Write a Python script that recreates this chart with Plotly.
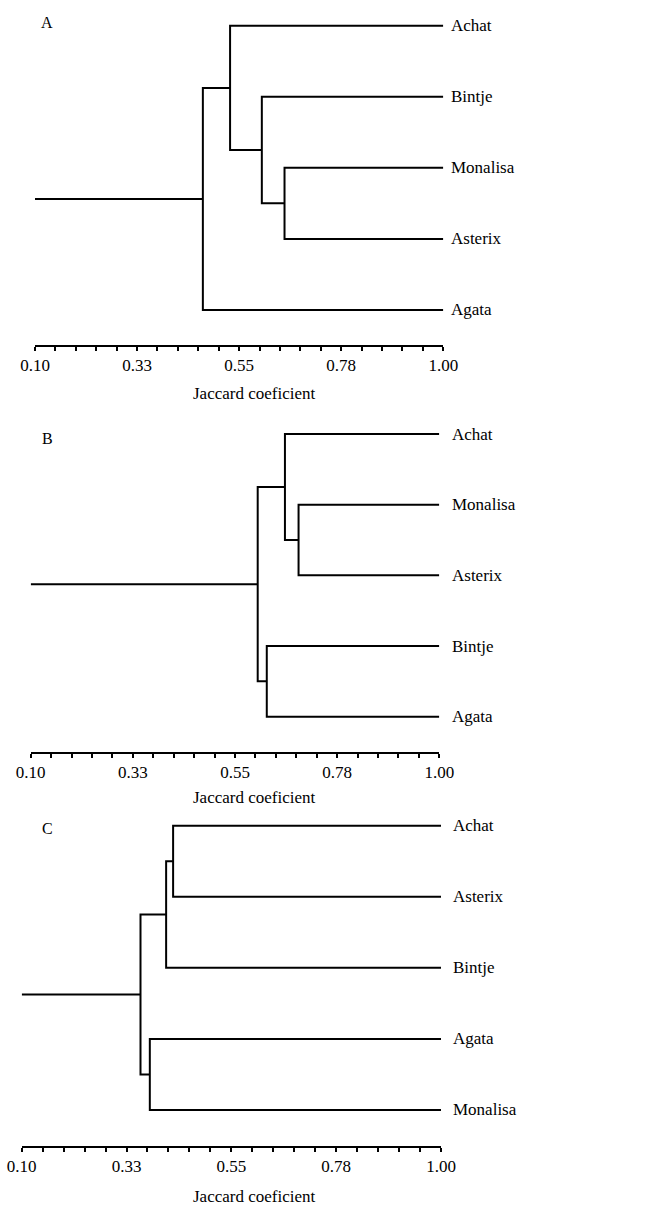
import numpy as np
import plotly.graph_objects as go

W, H = 665, 1206

# ---------------- data ----------------
a_leaves = ["Achat", "Bintje", "Monalisa", "Asterix", "Agata"]
a_merges = [(2, 3, 0.65), (1, 5, 0.60), (0, 6, 0.53), (7, 4, 0.47)]

b_leaves = ["Achat", "Monalisa", "Asterix", "Bintje", "Agata"]
b_merges = [(1, 2, 0.69), (0, 5, 0.66), (3, 4, 0.62), (6, 7, 0.60)]

c_leaves = ["Achat", "Asterix", "Bintje", "Agata", "Monalisa"]
c_merges = [(0, 1, 0.425), (5, 2, 0.41), (3, 4, 0.375), (6, 7, 0.355)]

tick_vals = [0.10, 0.325, 0.55, 0.775, 1.00]
tick_text = ["0.10", "0.33", "0.55", "0.78", "1.00"]
axis_min, axis_max = 0.10, 1.00
minor_step = 0.045
panel_letters = ["A", "B", "C"]
axis_title = "Jaccard coeficient"

# ---------------- layout (pixels) ----------------
panels_px = [
    dict(x0=35.0, x1=443.3, leaf0=25.7, step=71.07, axis=345.0, top=5.0,
         letter=(47, 22), title=(254, 394), label_x=449),
    dict(x0=30.7, x1=439.3, leaf0=434.0, step=70.67, axis=751.7, top=410.0,
         letter=(47, 438), title=(254, 797), label_x=450),
    dict(x0=21.7, x1=441.0, leaf0=825.7, step=71.07, axis=1145.7, top=810.0,
         letter=(47, 828), title=(254, 1196), label_x=451),
]
FONT = "Liberation Serif"
FS = 17


def dendro_path(n_leaves, merges, leaf_height, base):
    ypos = {i: float(i) for i in range(n_leaves)}
    xpos = {i: leaf_height for i in range(n_leaves)}
    xs, ys = [], []
    for k, (a, b, h) in enumerate(merges):
        node = n_leaves + k
        xs += [xpos[a], h, h, xpos[b], None]
        ys += [ypos[a], ypos[a], ypos[b], ypos[b], None]
        ypos[node] = (ypos[a] + ypos[b]) / 2
        xpos[node] = h
    root = n_leaves + len(merges) - 1
    xs += [xpos[root], base]
    ys += [ypos[root], ypos[root]]
    return xs, ys


fig = go.Figure()
annotations = []
datasets = [(a_leaves, a_merges), (b_leaves, b_merges), (c_leaves, c_merges)]
minor_vals = list(np.round(np.arange(axis_min, axis_max + 1e-9, minor_step), 4))

for i, ((leaves, merges), p) in enumerate(zip(datasets, panels_px), start=1):
    xs, ys = dendro_path(len(leaves), merges, axis_max, axis_min)
    xa = "x" if i == 1 else f"x{i}"
    ya = "y" if i == 1 else f"y{i}"
    fig.add_trace(go.Scatter(x=xs, y=ys, mode="lines", xaxis=xa, yaxis=ya,
                             line=dict(color="black", width=2),
                             hoverinfo="skip", showlegend=False))
    xkey = "xaxis" if i == 1 else f"xaxis{i}"
    ykey = "yaxis" if i == 1 else f"yaxis{i}"
    fig.update_layout(**{
        xkey: dict(domain=[p["x0"] / W, p["x1"] / W], range=[axis_min, axis_max],
                   anchor=ya, showline=True, linecolor="black", linewidth=2,
                   ticks="outside", tickvals=tick_vals, ticktext=tick_text,
                   ticklen=4, tickwidth=1.5, tickcolor="black",
                   tickfont=dict(family=FONT, size=FS, color="black"),
                   minor=dict(tickmode="array", tickvals=minor_vals, ticks="outside",
                              ticklen=4, tickwidth=1.5, tickcolor="black", showgrid=False),
                   showgrid=False, zeroline=False, fixedrange=True, automargin=False),
        ykey: dict(domain=[1 - p["axis"] / H, 1 - p["top"] / H],
                   range=[(p["axis"] - p["leaf0"]) / p["step"], (p["top"] - p["leaf0"]) / p["step"]],
                   anchor=xa, visible=False, fixedrange=True, automargin=False),
    })
    for j, name in enumerate(leaves):
        annotations.append(dict(x=axis_max, y=j, xref=xa, yref=ya, text=name,
                                showarrow=False, xanchor="left", yanchor="middle",
                                xshift=p["label_x"] - p["x1"],
                                font=dict(family=FONT, size=FS, color="black")))
    annotations.append(dict(x=p["letter"][0] / W, y=1 - p["letter"][1] / H, xref="paper", yref="paper",
                            text=panel_letters[i - 1], showarrow=False, xanchor="center", yanchor="middle",
                            font=dict(family=FONT, size=16, color="black")))
    annotations.append(dict(x=p["title"][0] / W, y=1 - p["title"][1] / H, xref="paper", yref="paper",
                            text=axis_title, showarrow=False, xanchor="center", yanchor="middle",
                            font=dict(family=FONT, size=FS, color="black")))

fig.update_layout(template="none", width=W, height=H, margin=dict(l=0, r=0, t=0, b=0, pad=0),
                  plot_bgcolor="white", paper_bgcolor="white",
                  annotations=annotations, showlegend=False)
fig.write_html("out.html", config={"displayModeBar": False},
               post_script="document.body.style.margin='0px';")
